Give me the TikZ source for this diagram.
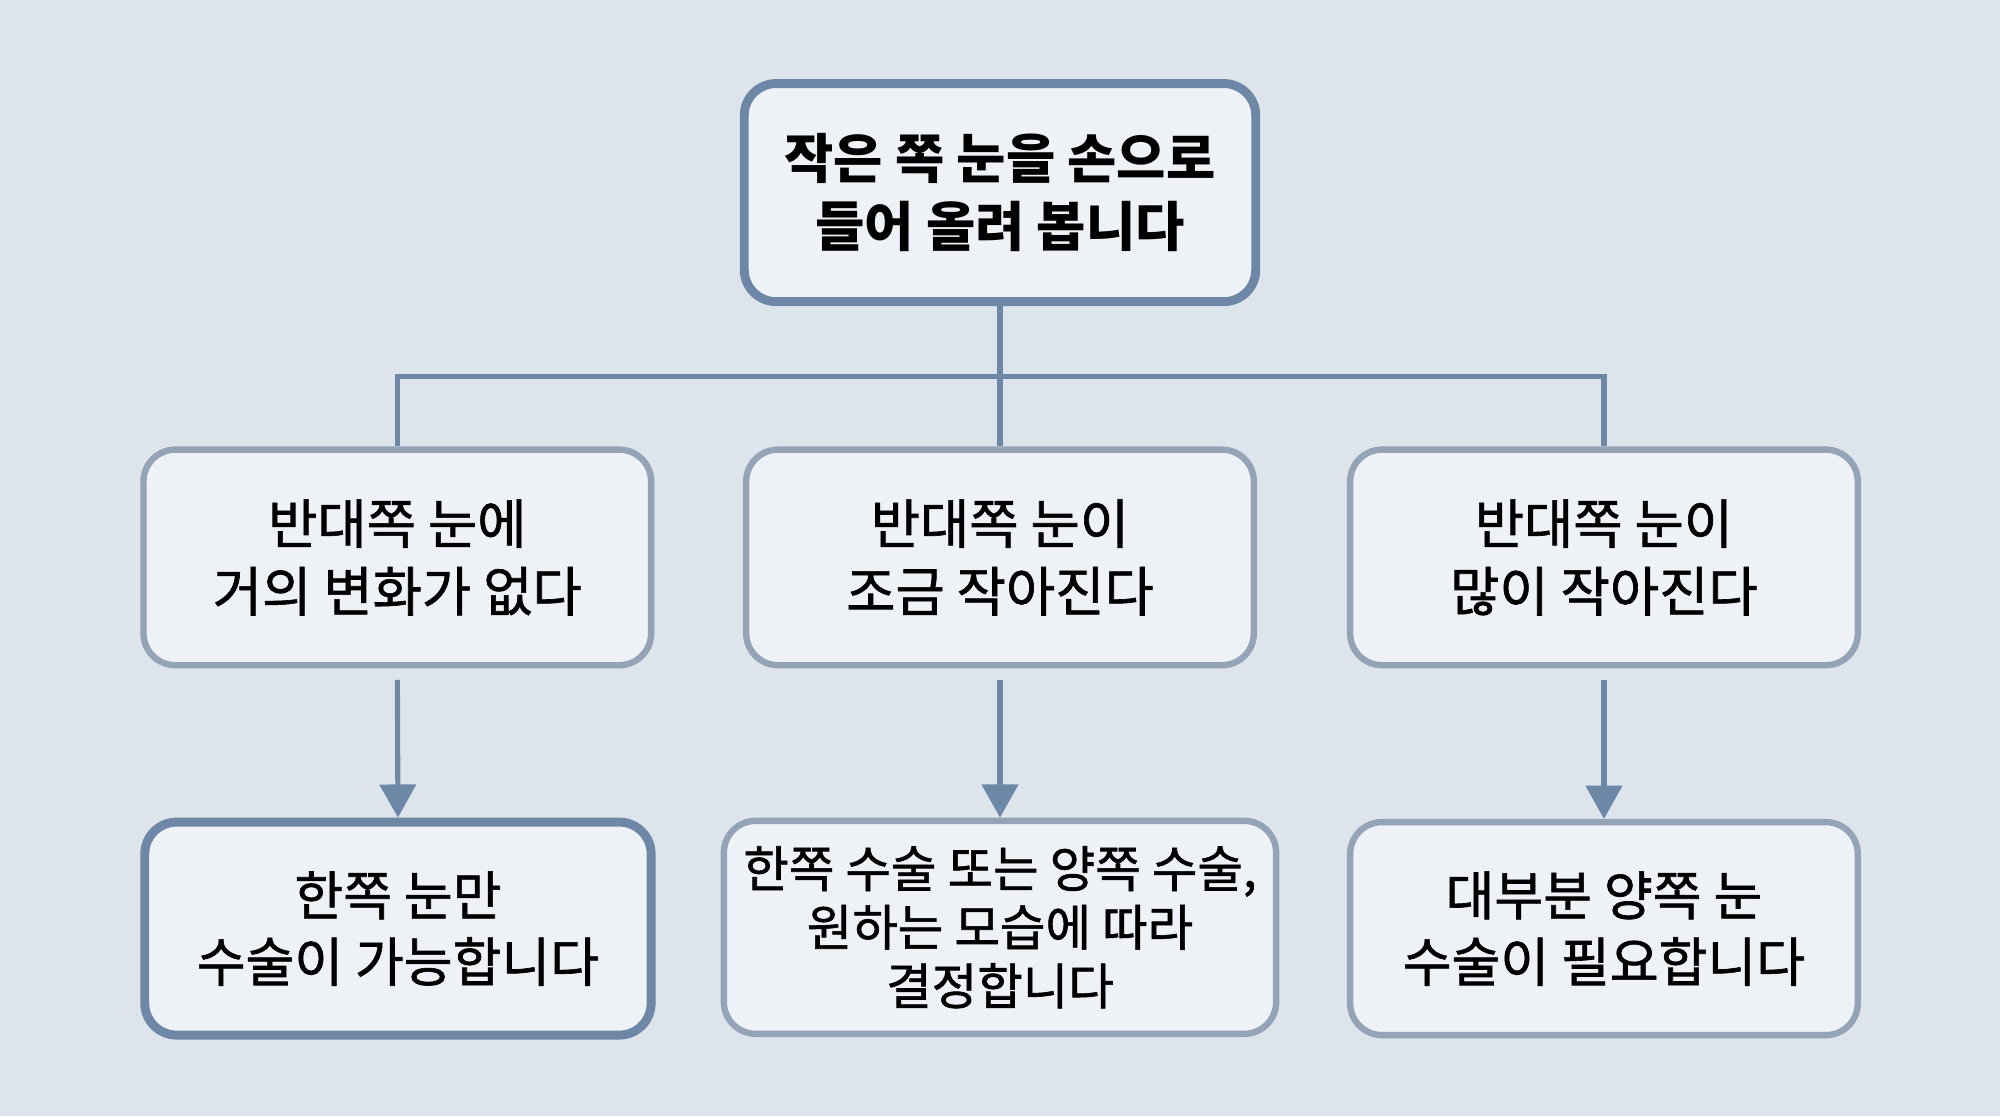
\documentclass[tikz,border=0pt]{standalone}
\usepackage{fontspec}
\newfontfamily\cjk{Noto Sans CJK KR}
\newfontfamily\cjkm[FakeBold=1.2]{Noto Sans CJK KR}
\usetikzlibrary{arrows.meta}
\definecolor{bgc}{HTML}{DEE4EC}
\definecolor{boxfill}{HTML}{EEF1F5}
\definecolor{darkedge}{HTML}{6F87A6}
\definecolor{lightedge}{HTML}{94A3B5}
\definecolor{linkc}{HTML}{6D87A7}
\tikzset{
  basebox/.style={rectangle, rounded corners=12.5pt, fill=boxfill, align=center, inner sep=0pt, text=black},
  strongbox/.style={basebox, draw=darkedge, line width=3.5pt},
  softbox/.style={basebox, draw=lightedge, line width=2.5pt},
  link/.style={draw=linkc, line width=2pt},
  arrowlink/.style={link, -{Triangle[length=13pt,width=14pt]}, shorten <=4.5pt}
}
\begin{document}
\begin{tikzpicture}[x=0.5pt,y=-0.5pt]
\fill[bgc] (0,0) rectangle (1568,875);
\useasboundingbox (0,0) rectangle (1568,875);

\node[strongbox, minimum width=200.5pt, minimum height=85.5pt, font=\cjk\bfseries\fontsize{21}{26.5}\selectfont] (top) at (784,151)
  {작은 쪽 눈을 손으로\\들어 올려 봅니다};

\node[softbox, minimum width=199pt, minimum height=84.5pt, font=\cjkm\fontsize{21}{26.5}\selectfont] (m1) at (311.5,437)
  {반대쪽 눈에\\거의 변화가 없다};
\node[softbox, minimum width=199pt, minimum height=84.5pt, font=\cjkm\fontsize{21}{26.5}\selectfont] (m2) at (784,437)
  {반대쪽 눈이\\조금 작아진다};
\node[softbox, minimum width=199pt, minimum height=84.5pt, font=\cjkm\fontsize{21}{26.5}\selectfont] (m3) at (1257.5,437)
  {반대쪽 눈이\\많이 작아진다};

\node[strongbox, minimum width=198.5pt, minimum height=83.5pt, font=\cjkm\fontsize{20.8}{26}\selectfont] (b1) at (312,728)
  {한쪽 눈만\\수술이 가능합니다};
\node[softbox, minimum width=216.5pt, minimum height=83.5pt, font=\cjkm\fontsize{19.4}{23}\selectfont] (b2) at (784,727)
  {한쪽 수술 또는 양쪽 수술,\\원하는 모습에 따라\\결정합니다};
\node[softbox, minimum width=199pt, minimum height=83.5pt, font=\cjkm\fontsize{20.8}{26}\selectfont] (b3) at (1257.5,728)
  {대부분 양쪽 눈\\수술이 필요합니다};

\coordinate (bus) at (784,295);
\draw[link] (top.south) -- (bus);
\draw[link] (m1.north) |- (bus) -| (m3.north);
\draw[link] (bus) -- (m2.north);

\draw[arrowlink] (m1.south) -- (b1.north);
\draw[arrowlink] (m2.south) -- (b2.north);
\draw[arrowlink] (m3.south) -- (b3.north);
\end{tikzpicture}
\end{document}
